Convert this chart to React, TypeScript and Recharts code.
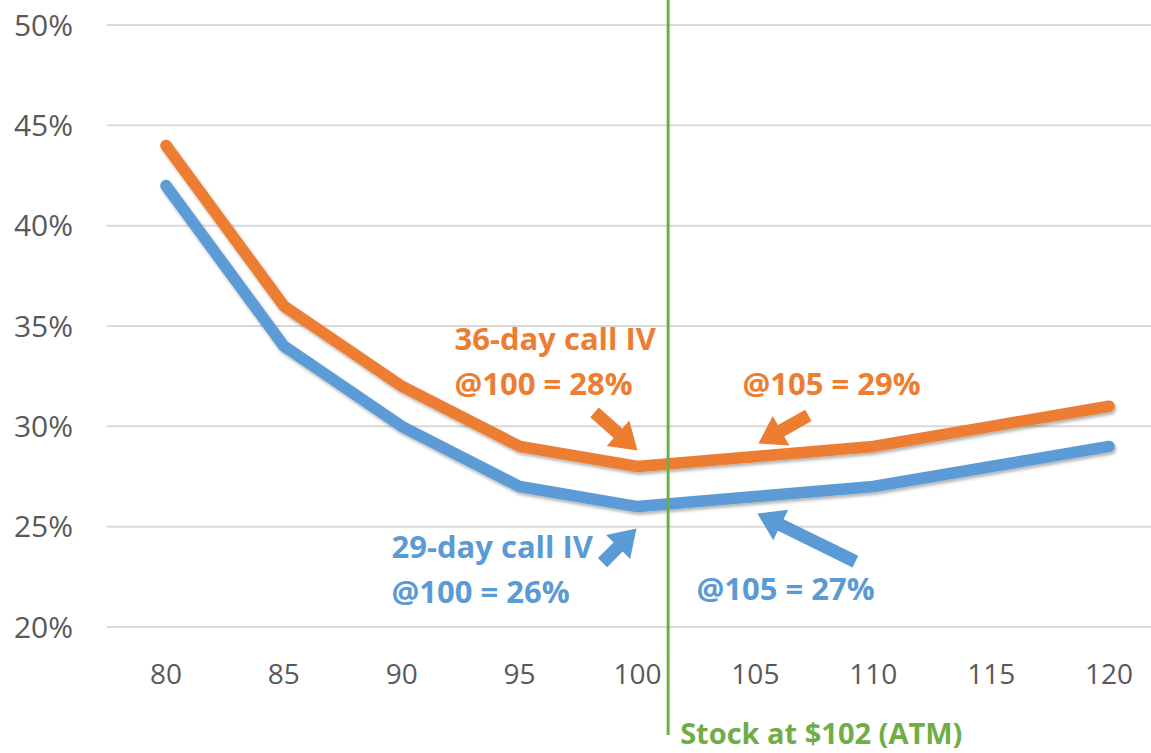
import React from 'react';
import {
  LineChart, Line, XAxis, YAxis, CartesianGrid, ReferenceLine, ReferenceDot
} from 'recharts';

// strikes on the x axis
const strikes = [80, 85, 90, 95, 100, 105, 110, 115, 120];
// implied vol (%)
const iv36day = [44, 36, 32, 29, 28, 28.5, 29, 30, 31];
const iv29day = [42, 34, 30, 27, 26, 26.5, 27, 28, 29];
const yTicks = [20, 25, 30, 35, 40, 45, 50];
// where the stock line sits in the picture
const stockAt = 101.3;
const stockLabel = 'Stock at $102 (ATM)';

const ORANGE = '#ED7D31';
const BLUE = '#5B9BD5';
const GREEN = '#70AD47';
const GREY = '#595959';
const FONT = '"Open Sans", "Noto Sans", sans-serif';

const data = strikes.map((strike, i) => ({
  strike,
  iv36: iv36day[i],
  iv29: iv29day[i],
}));

// callouts: anchored on a series point, offsets in px
const notes = [
  { strike: 100, key: 'iv36', color: ORANGE, lines: ['36-day call IV', '@100 = 28%'], tip: [0, -16], tail: [-43, -54], text: [-183, -128] },
  { strike: 105, key: 'iv36', color: ORANGE, lines: ['@105 = 29%'], tip: [3, -13], tail: [53, -41], text: [-13, -73] },
  { strike: 100, key: 'iv29', color: BLUE, lines: ['29-day call IV', '@100 = 26%'], tip: [-1, 22], tail: [-35, 56], text: [-246, 39] },
  { strike: 105, key: 'iv29', color: BLUE, lines: ['@105 = 27%'], tip: [2, 17], tail: [100, 65], text: [-59, 91] },
];

const arrowPoints = (x1: number, y1: number, x2: number, y2: number) => {
  const dx = x2 - x1;
  const dy = y2 - y1;
  const len = Math.hypot(dx, dy);
  const ux = dx / len, uy = dy / len;
  const px = -uy, py = ux;
  const head = 26, hw = 17, sw = 6.5;
  const bx = x2 - ux * head, by = y2 - uy * head;
  const pts = [
    [x1 + px * sw, y1 + py * sw],
    [bx + px * sw, by + py * sw],
    [bx + px * hw, by + py * hw],
    [x2, y2],
    [bx - px * hw, by - py * hw],
    [bx - px * sw, by - py * sw],
    [x1 - px * sw, y1 - py * sw],
  ];
  return pts.map(p => p.join(',')).join(' ');
};

const Callout = (note: typeof notes[number]) => (props: any) => {
  const { cx, cy } = props;
  if (cx == null || cy == null) return <g />;
  return (
    <g>
      <polygon
        points={arrowPoints(cx + note.tail[0], cy + note.tail[1], cx + note.tip[0], cy + note.tip[1])}
        fill={note.color}
      />
      {note.lines.map((line, i) => (
        <text
          key={i}
          x={cx + note.text[0]}
          y={cy + note.text[1] + i * 45}
          dominantBaseline="central"
          fill={note.color}
          fontFamily={FONT}
          fontWeight={700}
          fontSize={31}
        >
          {line}
        </text>
      ))}
    </g>
  );
};

const StockLine = (props: any) => {
  const { x1, y1, y2 } = props;
  const top = Math.min(y1, y2) - 25;
  const bottom = Math.max(y1, y2) + 108;
  return (
    <g>
      <line x1={x1} y1={top} x2={x1} y2={bottom} stroke={GREEN} strokeWidth={3} />
      <text
        x={x1 + 12}
        y={bottom - 3}
        dominantBaseline="central"
        fill={GREEN}
        fontFamily={FONT}
        fontWeight={700}
        fontSize={29}
      >
        {stockLabel}
      </text>
    </g>
  );
};

export default function App() {
  return (
    <div style={{ position: 'fixed', left: 0, top: 0, width: 1151, height: 753, overflow: 'hidden', background: '#fff' }}>
      <LineChart width={1168} height={753} data={data} margin={{ top: 25, right: 0, bottom: 0, left: 0 }}>
        <defs>
          <filter id="lineShadow" x="-5%" y="-20%" width="110%" height="140%">
            <feDropShadow dx="1.5" dy="2.5" stdDeviation="1.5" floodColor="#000" floodOpacity="0.3" />
          </filter>
        </defs>
        <CartesianGrid vertical={false} stroke="#d9d9d9" strokeWidth={2} />
        <XAxis
          type="number"
          dataKey="strike"
          domain={[77.5, 122.5]}
          ticks={strikes}
          height={126}
          axisLine={false}
          tickLine={false}
          tickSize={0}
          tickMargin={37}
          tick={{ fill: GREY, fontSize: 28, fontFamily: FONT }}
        />
        <YAxis
          domain={[20, 50]}
          ticks={yTicks}
          width={107}
          axisLine={false}
          tickLine={false}
          tickSize={0}
          tickMargin={34}
          tickFormatter={(v: number) => `${v}%`}
          tick={{ fill: GREY, fontSize: 30, fontFamily: FONT }}
        />
        <Line
          dataKey="iv29"
          stroke={BLUE}
          strokeWidth={11.5}
          dot={false}
          strokeLinecap="round"
          strokeLinejoin="round"
          filter="url(#lineShadow)"
          isAnimationActive={false}
        />
        <Line
          dataKey="iv36"
          stroke={ORANGE}
          strokeWidth={11.5}
          dot={false}
          strokeLinecap="round"
          strokeLinejoin="round"
          filter="url(#lineShadow)"
          isAnimationActive={false}
        />
        <ReferenceLine x={stockAt} shape={StockLine} />
        {notes.map((n, i) => (
          <ReferenceDot
            key={i}
            x={n.strike}
            y={data.find(d => d.strike === n.strike)![n.key as 'iv36' | 'iv29']}
            r={0}
            shape={Callout(n)}
          />
        ))}
      </LineChart>
    </div>
  );
}
